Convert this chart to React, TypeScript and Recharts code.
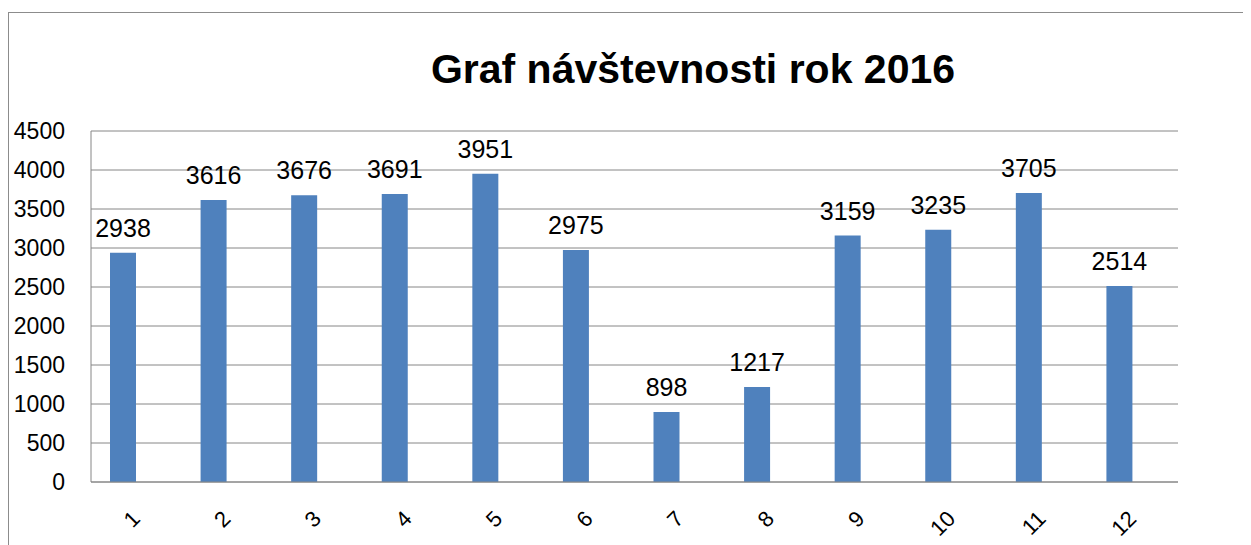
import React from 'react';
import { BarChart, Bar, XAxis, YAxis, CartesianGrid, LabelList } from 'recharts';

const months = ['1', '2', '3', '4', '5', '6', '7', '8', '9', '10', '11', '12'];
const visits = [2938, 3616, 3676, 3691, 3951, 2975, 898, 1217, 3159, 3235, 3705, 2514];
const yTicks = [0, 500, 1000, 1500, 2000, 2500, 3000, 3500, 4000, 4500];
const title = 'Graf návštevnosti rok 2016';

const data = months.map((m, i) => ({ month: m, visits: visits[i], empty: null }));

const FONT = '"Liberation Sans", Arial, sans-serif';

const XTick = (props: any) => {
  const { x, y, payload } = props;
  return (
    <g transform={`translate(${x + 5},${y + 36})`}>
      <text transform="rotate(-45)" textAnchor="end" fontFamily={FONT} fontSize={22} fill="#000">
        {payload.value}
      </text>
    </g>
  );
};

export default function App() {
  return (
    <div style={{ position: 'relative', width: 1243, height: 537, overflow: 'hidden', background: '#fff' }}>
      <div
        style={{
          position: 'absolute',
          left: 0,
          top: 4,
          width: 1400,
          height: 700,
          borderLeft: '1px solid #8c8c8c',
          borderTop: '1px solid #8c8c8c',
          pointerEvents: 'none',
        }}
      />
      <div
        style={{
          position: 'absolute',
          left: 0,
          width: 1370,
          top: 36,
          textAlign: 'center',
          fontFamily: FONT,
          fontWeight: 'bold',
          fontSize: 41,
          lineHeight: '50px',
          color: '#000',
        }}
      >
        {title}
      </div>
      <BarChart
        width={1243}
        height={537}
        data={data}
        margin={{ top: 123, right: 73, bottom: 13, left: 0 }}
        barGap={0}
        barSize={26}
        style={{ position: 'absolute', left: 0, top: 0 }}
      >
        <CartesianGrid vertical={false} stroke="#868686" strokeDasharray="" />
        <XAxis
          dataKey="month"
          height={50}
          tickLine={false}
          tickSize={0}
          axisLine={{ stroke: '#868686' }}
          tick={<XTick />}
          interval={0}
        />
        <YAxis
          width={83}
          domain={[0, 4500]}
          ticks={yTicks}
          tickLine={false}
          tickSize={0}
          tickMargin={26}
          axisLine={{ stroke: '#868686' }}
          tick={{ fontFamily: FONT, fontSize: 23, fill: '#000' }}
          interval={0}
        />
        <Bar dataKey="visits" fill="#4F81BD" isAnimationActive={false}>
          <LabelList dataKey="visits" position="top" offset={16} fontFamily={FONT} fontSize={25} fill="#000" />
        </Bar>
        <Bar dataKey="empty" fill="#C0504D" isAnimationActive={false} />
      </BarChart>
    </div>
  );
}
